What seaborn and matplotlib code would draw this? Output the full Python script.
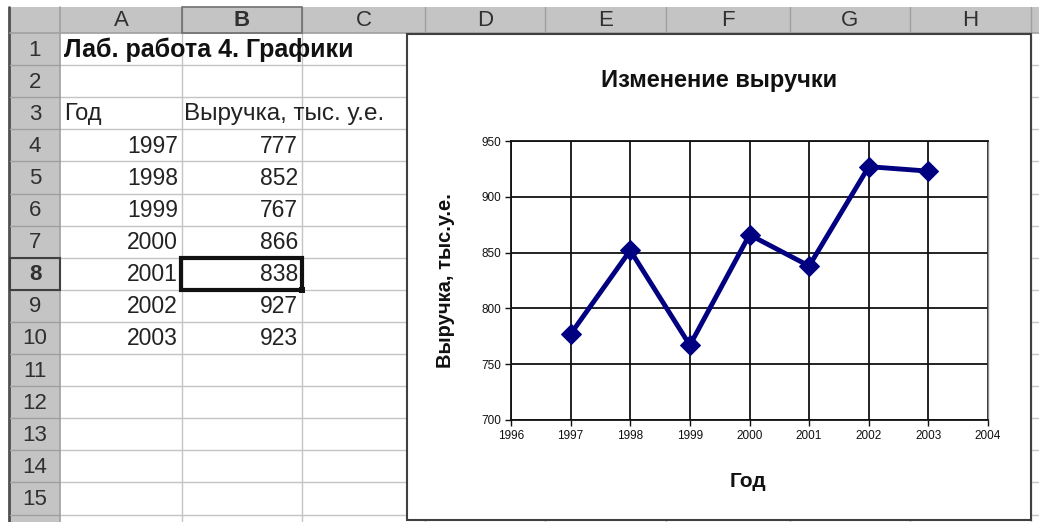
import numpy as np
import pandas as pd
import matplotlib.pyplot as plt
import seaborn as sns
from matplotlib.patches import Rectangle

sns.set_theme(style="white")
plt.rcParams['font.family'] = ['Liberation Sans', 'DejaVu Sans']

# data from the sheet
years = [1997, 1998, 1999, 2000, 2001, 2002, 2003]
revenue = [777, 852, 767, 866, 838, 927, 923]
sheet_title = "Лаб. работа 4. Графики"
col_year = "Год"
col_rev = "Выручка, тыс. у.е."
chart_title = "Изменение выручки"
y_label = "Выручка, тыс.у.е."
x_label = "Год"
col_letters = ["A", "B", "C", "D", "E", "F", "G", "H"]
x_ticks = list(range(1996, 2005))
y_ticks = list(range(700, 951, 50))

df = pd.DataFrame({"year": years, "revenue": revenue})

W, H = 1039, 522
fig = plt.figure(figsize=(W / 100, H / 100), dpi=100)
bg = fig.add_axes([0, 0, 1, 1])
bg.set_xlim(0, W)
bg.set_ylim(H, 0)
bg.axis('off')

# sheet geometry (pixels)
col_edges = [60, 182, 302, 425, 545, 666, 790, 910, 1031, 1150]
head_top, head_bot = 7, 33
row_h = 32.1
row_edges = [head_bot + i * row_h for i in range(17)]
grid_c = '#c4c4c4'
head_c = '#c4c4c4'
sep_c = '#a0a0a0'
txt_c = '#222222'

# cell grid
for y in row_edges[1:]:
    bg.plot([60, W], [y, y], color=grid_c, lw=1, zorder=1)
for x in col_edges[1:]:
    bg.plot([x, x], [head_bot, H], color=grid_c, lw=1, zorder=1)

# headers
bg.add_patch(Rectangle((10, head_top), W - 10, head_bot - head_top, fc=head_c, ec='none', zorder=2))
bg.add_patch(Rectangle((10, head_bot), 50, H - head_bot, fc=head_c, ec='none', zorder=2))
bg.plot([9, 9], [head_top, H], color='#505050', lw=2, zorder=3)
bg.plot([10, W], [head_bot, head_bot], color=sep_c, lw=1.2, zorder=3)
bg.plot([60, 60], [head_top, H], color=sep_c, lw=1.2, zorder=3)
for x in col_edges[1:]:
    bg.plot([x, x], [head_top, head_bot], color=sep_c, lw=1, zorder=3)
for y in row_edges[1:]:
    bg.plot([10, 60], [y, y], color=sep_c, lw=1, zorder=3)

for i, letter in enumerate(col_letters):
    cx = (col_edges[i] + col_edges[i + 1]) / 2
    bg.text(cx, (head_top + head_bot) / 2 + 1, letter, ha='center', va='center',
            fontsize=16, color='#303030', fontweight='bold' if letter == 'B' else 'normal', zorder=4)
for r in range(1, 16):
    ymid = (row_edges[r - 1] + row_edges[r]) / 2
    bg.text(35, ymid + 1, str(r), ha='center', va='center', fontsize=16, color='#303030',
            fontweight='bold' if r == 8 else 'normal', zorder=4)
# selected row / column headers
bg.add_patch(Rectangle((10, row_edges[7]), 50, row_h, fc='none', ec='#404040', lw=1.5, zorder=4))
bg.add_patch(Rectangle((182, head_top), 120, head_bot - head_top, fc='none', ec='#707070', lw=1.2, zorder=4))

# cell contents
def cy(r):
    return (row_edges[r - 1] + row_edges[r]) / 2 + 1

bg.text(64, cy(1), sheet_title, ha='left', va='center', fontsize=18, fontweight='bold', color='#111111', zorder=5)
bg.text(64, cy(3), col_year, ha='left', va='center', fontsize=17, color=txt_c, zorder=5)
bg.text(184, cy(3), col_rev, ha='left', va='center', fontsize=17.5, color=txt_c, zorder=5)
for i, (yr, v) in enumerate(zip(years, revenue)):
    bg.text(178, cy(4 + i), str(yr), ha='right', va='center', fontsize=16.5, color=txt_c, zorder=5)
    bg.text(298, cy(4 + i), str(v), ha='right', va='center', fontsize=16.5, color=txt_c, zorder=5)

# active cell B8
bg.add_patch(Rectangle((181, row_edges[7]), 121, row_h, fc='none', ec='#111111', lw=3, zorder=6))
bg.add_patch(Rectangle((299, row_edges[8] - 3), 6, 6, fc='#111111', ec='none', zorder=7))

# chart object
bg.add_patch(Rectangle((407, 34), 1031 - 407, 520 - 34, fc='white', ec='#404040', lw=1.5, zorder=8))
bg.text(719, 80, chart_title, ha='center', va='center', fontsize=17, fontweight='bold', color='#111111', zorder=9)

ax = fig.add_axes([511 / W, 1 - 420 / H, 477 / W, 279 / H])
ax.set_zorder(10)
sns.lineplot(data=df, x="year", y="revenue", ax=ax, color='#000080', lw=3.5,
             marker='D', markersize=10, markeredgecolor='#000080', zorder=5)
ax.set_xlim(1996, 2004)
ax.set_ylim(700, 950)
ax.set_xticks(x_ticks)
ax.set_yticks(y_ticks)
ax.grid(True, color='#111111', lw=1.3)
for s in ['left', 'bottom', 'top']:
    ax.spines[s].set_color('#111111')
    ax.spines[s].set_linewidth(1.3)
ax.spines['right'].set_color('#909090')
ax.spines['right'].set_linewidth(1)
ax.tick_params(axis='both', direction='out', length=4, width=1, color='#111111',
               labelsize=8.5, labelcolor='#111111', bottom=True, left=True, pad=3)
ax.set_xlabel(x_label, fontsize=15, fontweight='bold', color='#111111')
ax.set_ylabel(y_label, fontsize=14.5, fontweight='bold', color='#111111')
ax.xaxis.set_label_coords(0.497, -0.185)
ax.yaxis.set_label_coords(-0.117, 0.5)

fig.savefig("out.png", dpi=100)
